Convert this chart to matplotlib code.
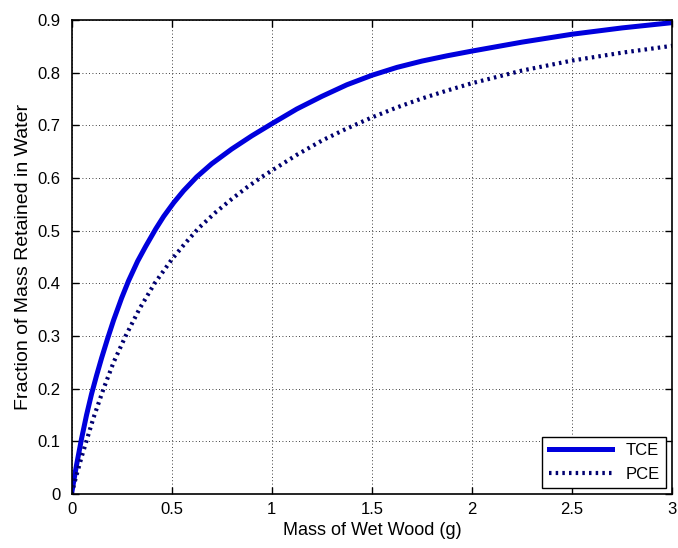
import matplotlib
matplotlib.use("Agg")
import matplotlib.pyplot as plt

plt.rcParams['font.family'] = ['Liberation Sans', 'DejaVu Sans']

tce_x = [0, 0.025, 0.05, 0.075, 0.1, 0.125, 0.15, 0.18, 0.21, 0.25, 0.285, 0.33, 0.37,
         0.42, 0.46, 0.51, 0.56, 0.625, 0.7, 0.8, 0.9, 1.0, 1.125, 1.25, 1.375, 1.5,
         1.625, 1.75, 1.875, 2.0, 2.25, 2.5, 2.75, 3.0]
tce_y = [0, 0.055, 0.105, 0.15, 0.19, 0.225, 0.258, 0.295, 0.33, 0.372, 0.405, 0.442, 0.47,
         0.503, 0.527, 0.553, 0.576, 0.602, 0.627, 0.655, 0.68, 0.703, 0.731, 0.755, 0.777, 0.795,
         0.81, 0.822, 0.832, 0.841, 0.858, 0.873, 0.885, 0.895]

pce_x = [0, 0.025, 0.05, 0.078, 0.11, 0.16, 0.21, 0.27, 0.34, 0.415, 0.5, 0.565, 0.635,
         0.72, 0.8, 0.875, 0.95, 1.0, 1.125, 1.25, 1.375, 1.5, 1.625, 1.75, 1.875, 2.0,
         2.25, 2.5, 2.75, 3.0]
pce_y = [0, 0.036, 0.07, 0.105, 0.145, 0.2, 0.25, 0.3, 0.352, 0.4, 0.445, 0.475, 0.505,
         0.535, 0.56, 0.582, 0.602, 0.614, 0.644, 0.671, 0.694, 0.715, 0.734, 0.751, 0.766, 0.78,
         0.804, 0.823, 0.838, 0.851]

x_ticks = [0, 0.5, 1, 1.5, 2, 2.5, 3]
x_labels = ['0', '0.5', '1', '1.5', '2', '2.5', '3']
y_ticks = [0, 0.1, 0.2, 0.3, 0.4, 0.5, 0.6, 0.7, 0.8, 0.9]
y_labels = ['0', '0.1', '0.2', '0.3', '0.4', '0.5', '0.6', '0.7', '0.8', '0.9']

fig = plt.figure(figsize=(6.78, 5.48), dpi=100)
ax = fig.add_axes([0.1055, 0.0985, 0.886, 0.865])

ax.plot(tce_x, tce_y, color='#0000dd', linewidth=3.6, label='TCE', solid_joinstyle='round')
ax.plot(pce_x, pce_y, color='#000070', linewidth=3.0, linestyle=(0, (0.6, 1.0)), label='PCE')

ax.set_xlim(0, 3)
ax.set_ylim(0, 0.9)
ax.set_xticks(x_ticks)
ax.set_xticklabels(x_labels)
ax.set_yticks(y_ticks)
ax.set_yticklabels(y_labels)
ax.tick_params(axis='both', direction='in', top=True, right=True, length=5, width=1,
               labelsize=12, colors='black')
ax.tick_params(axis='y', pad=8)
ax.tick_params(axis='x', pad=6)
ax.grid(True, color='black', linestyle=(0, (1, 3)), linewidth=0.6)
for s in ax.spines.values():
    s.set_linewidth(1.2)
    s.set_color('black')

ax.set_xlabel('Mass of Wet Wood (g)', fontsize=13, labelpad=3)
ax.set_ylabel('Fraction of Mass Retained in Water', fontsize=14, labelpad=4)

leg = ax.legend(loc='lower right', fontsize=12, fancybox=False, framealpha=1,
                edgecolor='black', handlelength=3.8, borderaxespad=0.35)
leg.get_frame().set_linewidth(1.0)

fig.savefig('out.png', dpi=100)
